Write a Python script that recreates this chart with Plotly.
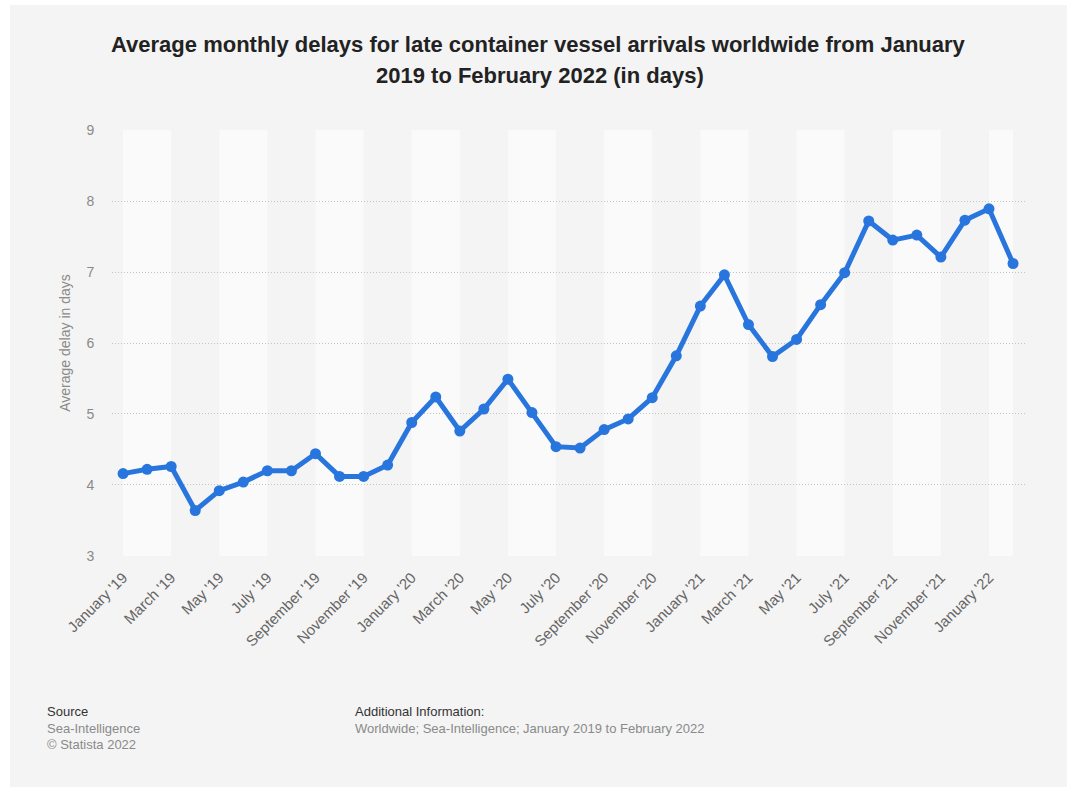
import plotly.graph_objects as go

months = [
    "January '19", "February '19", "March '19", "April '19", "May '19", "June '19",
    "July '19", "August '19", "September '19", "October '19", "November '19", "December '19",
    "January '20", "February '20", "March '20", "April '20", "May '20", "June '20",
    "July '20", "August '20", "September '20", "October '20", "November '20", "December '20",
    "January '21", "February '21", "March '21", "April '21", "May '21", "June '21",
    "July '21", "August '21", "September '21", "October '21", "November '21", "December '21",
    "January '22", "February '22",
]
delays = [
    4.16, 4.22, 4.26, 3.64, 3.92, 4.04, 4.20, 4.20, 4.44, 4.12, 4.12, 4.28,
    4.88, 5.24, 4.76, 5.07, 5.49, 5.02, 4.54, 4.52, 4.78, 4.93, 5.23, 5.82,
    6.52, 6.96, 6.26, 5.81, 6.05, 6.54, 6.99, 7.72, 7.45, 7.52, 7.21, 7.73,
    7.89, 7.12,
]
y_ticks = [3, 4, 5, 6, 7, 8, 9]

title_lines = [
    "Average monthly delays for late container vessel arrivals worldwide from January",
    "2019 to February 2022 (in days)",
]
y_title = "Average delay in days"

FONT = "Liberation Sans, Arial, Helvetica, sans-serif"
BG = "#f4f4f4"
BAND = "#fafafa"
BLUE = "#2876dd"

W, H = 1067, 787
L, R, T, B = 112, 40, 130, 231
PW = W - L - R
PH = H - T - B

def px_x(px):
    return (px - L) / PW

def px_y(py):
    return (H - B - py) / PH

idx = list(range(len(months)))
last = len(months) - 1

fig = go.Figure()
fig.add_trace(go.Scatter(
    x=idx, y=delays, mode="lines+markers",
    line=dict(color=BLUE, width=5),
    marker=dict(color=BLUE, size=11),
    hoverinfo="x+y", showlegend=False,
))

shapes = [
    # grey card, leaving a thin white page edge at the left and top
    dict(type="rect", xref="paper", yref="paper",
         x0=px_x(10), x1=px_x(W), y0=px_y(H), y1=px_y(5),
         fillcolor=BG, line=dict(width=0), layer="below"),
]
# alternating light bands, two months wide
for i in range(0, last, 4):
    shapes.append(dict(type="rect", xref="x", yref="paper",
                       x0=i, x1=min(i + 2, last), y0=0, y1=1,
                       fillcolor=BAND, line=dict(width=0), layer="below"))

annotations = [
    dict(text=title_lines[0], xref="paper", yref="paper", x=px_x(538), y=px_y(45),
         xanchor="center", yanchor="middle", showarrow=False,
         font=dict(family=FONT, size=22, color="#222222", weight="bold")),
    dict(text=title_lines[1], xref="paper", yref="paper", x=px_x(540), y=px_y(76),
         xanchor="center", yanchor="middle", showarrow=False,
         font=dict(family=FONT, size=22, color="#222222", weight="bold")),
    dict(text="Source", xref="paper", yref="paper", x=px_x(45), y=px_y(711),
         xanchor="left", yanchor="middle", showarrow=False,
         font=dict(family=FONT, size=13, color="#333333")),
    dict(text="Sea-Intelligence", xref="paper", yref="paper", x=px_x(45), y=px_y(728),
         xanchor="left", yanchor="middle", showarrow=False,
         font=dict(family=FONT, size=13, color="#8a8a8a")),
    dict(text="© Statista 2022", xref="paper", yref="paper", x=px_x(45), y=px_y(744),
         xanchor="left", yanchor="middle", showarrow=False,
         font=dict(family=FONT, size=13, color="#8a8a8a")),
    dict(text="Additional Information:", xref="paper", yref="paper", x=px_x(353), y=px_y(711),
         xanchor="left", yanchor="middle", showarrow=False,
         font=dict(family=FONT, size=13, color="#333333")),
    dict(text="Worldwide; Sea-Intelligence; January 2019 to February 2022", xref="paper", yref="paper",
         x=px_x(353), y=px_y(728), xanchor="left", yanchor="middle", showarrow=False,
         font=dict(family=FONT, size=13, color="#8a8a8a")),
]

fig.update_layout(
    width=W, height=H, autosize=False,
    margin=dict(l=L, r=R, t=T, b=B, pad=0),
    paper_bgcolor="white", plot_bgcolor=BG,
    font=dict(family=FONT),
    shapes=shapes, annotations=annotations,
    showlegend=False,
    xaxis=dict(
        range=[-0.46, 37.58],
        tickmode="array", tickvals=idx[::2], ticktext=months[::2],
        tickangle=-45, tickfont=dict(family=FONT, size=15, color="#666666"),
        showgrid=False, zeroline=False, showline=False,
        ticks="outside", ticklen=6, tickcolor="rgba(0,0,0,0)",
    ),
    yaxis=dict(
        range=[2.999, 9.001],
        tickmode="array", tickvals=y_ticks,
        tickfont=dict(family=FONT, size=14, color="#8a8a8a"),
        showgrid=True, gridcolor="#c4c4c4", griddash="1px,2px", gridwidth=1,
        zeroline=False, showline=False,
        ticks="outside", ticklen=14, tickcolor="rgba(0,0,0,0)",
        title=dict(text=y_title, font=dict(family=FONT, size=14, color="#8a8a8a"), standoff=12),
    ),
)

fig.write_html("out.html")
